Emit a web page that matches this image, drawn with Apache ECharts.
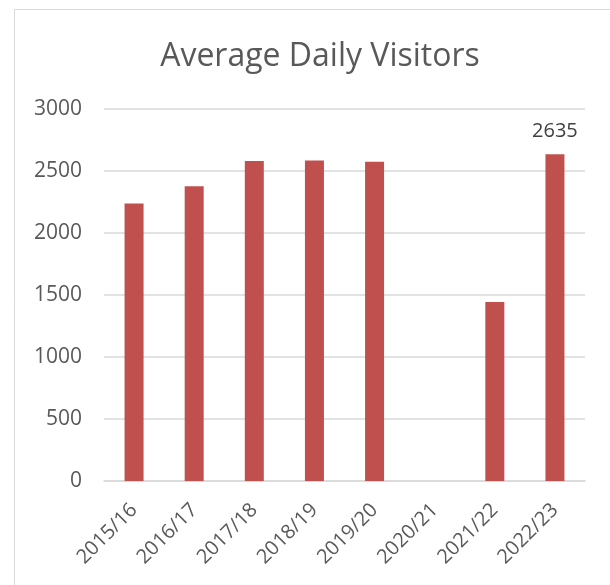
<!DOCTYPE html>
<html>
<head>
<meta charset="utf-8">
<script src="https://cdn.jsdelivr.net/npm/echarts@6/dist/echarts.min.js"></script>
<style>
  html, body { margin: 0; padding: 0; background: #fff; }
  #chart { width: 610px; height: 585px; }
</style>
</head>
<body>
<div id="chart"></div>
<script>
// season labels along the x axis
const seasons = ['2015/16', '2016/17', '2017/18', '2018/19', '2019/20', '2020/21', '2021/22', '2022/23'];
// average daily visitors (2020/21 has no value)
const visitors = [2237, 2378, 2580, 2585, 2574, null, 1443, 2635];
// only the last bar carries a label
const labelledIndex = 7;

const chart = echarts.init(document.getElementById('chart'));

const option = {
  backgroundColor: '#fff',
  textStyle: { fontFamily: '"Open Sans", sans-serif' },
  graphic: [{
    type: 'rect',
    shape: { x: 14.5, y: 9.5, width: 800, height: 800 },
    style: { fill: 'none', stroke: '#d9d9d9', lineWidth: 1 },
    silent: true
  }],
  title: {
    text: 'Average Daily Visitors',
    left: 315,
    textAlign: 'center',
    top: 36,
    textStyle: { fontSize: 32, fontWeight: 'normal', color: '#595959', fontFamily: '"Open Sans", sans-serif' }
  },
  grid: { left: 104, right: 25, top: 109, bottom: 104 },
  xAxis: {
    type: 'category',
    data: seasons,
    axisTick: { show: false },
    axisLine: { lineStyle: { color: '#d9d9d9', width: 1.5 } },
    axisLabel: { rotate: 45, fontSize: 20, color: '#595959', margin: 26, interval: 0 }
  },
  yAxis: {
    type: 'value',
    min: 0,
    max: 3000,
    interval: 500,
    axisLine: { show: false },
    axisTick: { show: false },
    splitLine: { lineStyle: { color: '#d9d9d9', width: 1.5 } },
    axisLabel: { fontSize: 21, color: '#595959', margin: 22, formatter: v => String(v) }
  },
  series: [{
    type: 'bar',
    data: visitors.map((v, i) => i === labelledIndex
      ? { value: v, label: { show: true } }
      : v),
    barWidth: 19,
    itemStyle: { color: '#c0504d' },
    label: {
      show: false,
      position: 'top',
      distance: 13,
      fontSize: 20,
      color: '#404040'
    }
  }]
};

chart.setOption(option);
</script>
</body>
</html>
